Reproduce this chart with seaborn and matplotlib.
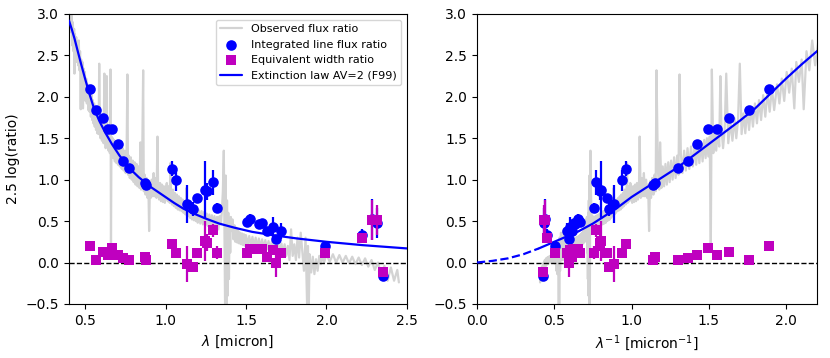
import numpy as np
import pandas as pd
import matplotlib
matplotlib.use('Agg')
import matplotlib.pyplot as plt
import seaborn as sns

# ------------------------------------------------------------
# data
# ------------------------------------------------------------
# wavelengths of the lines [micron]
lam_lines = [0.530, 0.568, 0.613, 0.645, 0.668, 0.704, 0.733, 0.770, 0.870, 0.880,
             1.038, 1.065, 1.131, 1.168, 1.193, 1.245, 1.255, 1.296, 1.321, 1.504,
             1.524, 1.580, 1.600, 1.628, 1.670, 1.684, 1.715, 1.990, 2.218, 2.280,
             2.315, 2.350]
# integrated line flux ratio, 2.5 log(ratio)
flux_ratio = [2.09, 1.84, 1.75, 1.61, 1.61, 1.43, 1.23, 1.145, 0.96, 0.93,
              1.13, 0.99, 0.71, 0.645, 0.78, 0.88, 0.86, 0.97, 0.66, 0.485,
              0.52, 0.47, 0.48, 0.38, 0.43, 0.28, 0.38, 0.20, 0.33, 0.52,
              0.48, -0.16]
flux_err = [0.02, 0.02, 0.02, 0.02, 0.02, 0.02, 0.02, 0.02, 0.02, 0.02,
            0.09, 0.13, 0.23, 0.08, 0.05, 0.35, 0.10, 0.15, 0.06, 0.04,
            0.07, 0.04, 0.04, 0.04, 0.12, 0.04, 0.10, 0.03, 0.07, 0.25,
            0.18, 0.02]
# equivalent width ratio
ew_ratio = [0.205, 0.03, 0.13, 0.09, 0.17, 0.085, 0.05, 0.03, 0.07, 0.03,
            0.22, 0.11, -0.02, -0.05, 0.11, 0.26, 0.24, 0.39, 0.12, 0.12,
            0.16, 0.16, 0.16, 0.07, 0.15, 0.00, 0.11, 0.12, 0.30, 0.51,
            0.51, -0.12]
ew_err = [0.02, 0.02, 0.02, 0.02, 0.02, 0.02, 0.02, 0.02, 0.02, 0.02,
          0.05, 0.06, 0.22, 0.03, 0.06, 0.24, 0.10, 0.08, 0.08, 0.04,
          0.06, 0.03, 0.03, 0.04, 0.06, 0.18, 0.05, 0.02, 0.03, 0.24,
          0.18, 0.02]

# extinction law AV=2 (F99), sampled in inverse wavelength
ext_invlam = [0.0, 0.1, 0.2, 0.3, 0.4, 0.45, 0.5, 0.55, 0.6, 0.65, 0.7, 0.75,
              0.8, 0.85, 0.9, 0.95, 1.0, 1.1, 1.2, 1.3, 1.4, 1.5, 1.6, 1.7,
              1.8, 1.9, 2.0, 2.1, 2.2, 2.3, 2.4, 2.5]
ext_val = [0.0, 0.02, 0.05, 0.10, 0.17, 0.21, 0.25, 0.29, 0.33, 0.37, 0.42, 0.47,
           0.53, 0.59, 0.65, 0.72, 0.79, 0.91, 1.03, 1.15, 1.29, 1.43, 1.57, 1.71,
           1.86, 2.04, 2.22, 2.39, 2.55, 2.70, 2.82, 2.92]

# observed flux ratio spectrum (wavelength [micron], 2.5 log(ratio))
obs_spectrum = [
    (0.400, 3.05), (0.404, 2.85), (0.408, 3.05), (0.412, 2.78), (0.416, 2.98),
    (0.420, 2.62), (0.424, 2.90), (0.428, 2.55), (0.432, 2.82), (0.434, 2.28),
    (0.437, 2.76), (0.441, 2.50), (0.445, 2.72), (0.449, 2.42), (0.453, 2.65),
    (0.457, 2.38), (0.461, 2.68), (0.465, 2.32), (0.469, 2.55), (0.473, 1.85),
    (0.476, 2.45), (0.480, 2.18), (0.484, 2.42), (0.487, 1.86), (0.491, 2.34),
    (0.495, 2.05), (0.499, 2.30), (0.503, 1.95), (0.507, 2.22), (0.511, 1.92),
    (0.515, 2.15), (0.520, 1.84), (0.524, 2.10), (0.528, 1.82), (0.532, 2.06),
    (0.536, 1.76), (0.540, 2.02), (0.544, 1.72), (0.548, 1.96), (0.552, 1.68),
    (0.556, 1.92), (0.560, 1.64), (0.564, 1.88), (0.568, 1.60), (0.572, 1.84),
    (0.576, 1.56), (0.580, 1.80), (0.584, 1.55), (0.588, 2.40), (0.592, 1.72),
    (0.596, 1.50), (0.600, 1.74), (0.605, 1.47), (0.610, 1.70), (0.615, 1.44),
    (0.620, 2.28), (0.624, 1.60), (0.628, 1.38), (0.632, 1.62), (0.635, 2.25),
    (0.638, 1.40), (0.642, 1.60), (0.646, 1.35), (0.650, 1.56), (0.654, 1.32),
    (0.658, 2.33), (0.661, 0.15), (0.664, 1.52), (0.668, 1.28), (0.672, 1.50),
    (0.676, 1.26), (0.680, 1.48), (0.685, 1.22), (0.690, 1.46), (0.695, 1.20),
    (0.700, 1.44), (0.705, 1.18), (0.710, 1.42), (0.716, 1.16), (0.722, 1.40),
    (0.728, 1.13), (0.734, 1.38), (0.740, 1.11), (0.746, 1.35), (0.752, 1.08),
    (0.758, 1.31), (0.763, 2.27), (0.767, 1.06), (0.772, 1.29), (0.778, 1.02),
    (0.784, 1.27), (0.790, 1.00), (0.796, 1.23), (0.802, 0.97), (0.808, 1.21),
    (0.814, 0.94), (0.820, 1.19), (0.826, 0.92), (0.832, 1.16), (0.838, 0.90),
    (0.844, 1.45), (0.848, 0.88), (0.854, 1.10), (0.861, 2.32), (0.865, 0.86),
    (0.870, 1.06), (0.876, 0.82), (0.882, 1.02), (0.888, 0.78), (0.893, 0.98),
    (0.898, 0.38), (0.903, 0.94), (0.908, 0.78), (0.914, 1.00), (0.920, 0.80),
    (0.926, 1.08), (0.932, 0.80), (0.938, 1.02), (0.944, 0.78), (0.950, 1.52),
    (0.954, 0.92), (0.960, 0.76), (0.966, 0.96), (0.972, 0.74), (0.978, 0.94),
    (0.984, 0.73), (0.990, 0.92), (0.996, 0.72), (1.002, 0.90), (1.008, 0.96),
    (1.014, 0.74), (1.020, 0.92), (1.026, 0.72), (1.030, 1.20), (1.034, 0.84),
    (1.040, 0.70), (1.046, 0.88), (1.052, 0.68), (1.058, 0.84), (1.064, 0.66),
    (1.070, 0.82), (1.076, 0.64), (1.082, 0.80), (1.088, 0.63), (1.094, 0.78),
    (1.100, 0.62), (1.106, 0.76), (1.112, 0.60), (1.118, 0.74), (1.124, 0.58),
    (1.130, 0.90), (1.134, 0.68), (1.140, 0.56), (1.146, 0.72), (1.152, 0.54),
    (1.158, 0.70), (1.164, 0.52), (1.170, 0.68), (1.176, 0.51), (1.182, 0.66),
    (1.188, 0.50), (1.194, 0.64), (1.200, 0.48), (1.208, 0.63), (1.216, 0.47),
    (1.224, 0.62), (1.232, 0.46), (1.240, 0.61), (1.248, 0.45), (1.256, 0.59),
    (1.264, 0.44), (1.272, 0.58), (1.280, 0.43), (1.288, 0.57), (1.296, 0.42),
    (1.304, 0.56), (1.312, 0.41), (1.320, 0.55), (1.328, 0.40), (1.336, 0.56),
    (1.344, 0.46), (1.350, 0.62), (1.356, 0.85), (1.362, 1.35), (1.366, 0.40),
    (1.370, -0.55), (1.374, 1.05), (1.378, -0.55), (1.382, 0.75), (1.386, -0.40),
    (1.390, 0.60), (1.394, -0.20), (1.398, 0.48), (1.402, 0.12), (1.406, 0.55),
    (1.410, 0.38), (1.416, 0.52), (1.422, 0.28), (1.428, 0.45), (1.434, 0.25),
    (1.440, 0.42), (1.446, 0.24), (1.452, 0.38), (1.458, 0.23), (1.464, 0.36),
    (1.470, 0.22), (1.476, 0.35), (1.482, 0.21), (1.488, 0.34), (1.494, 0.20),
    (1.500, 0.33), (1.510, 0.21), (1.520, 0.32), (1.530, 0.20), (1.540, 0.31),
    (1.550, 0.19), (1.560, 0.30), (1.570, 0.18), (1.580, 0.29), (1.590, 0.17),
    (1.600, 0.28), (1.610, 0.17), (1.620, 0.27), (1.630, 0.16), (1.640, 0.26),
    (1.650, 0.15), (1.660, 0.25), (1.670, 0.14), (1.680, 0.25), (1.690, 0.13),
    (1.700, 0.24), (1.710, 0.12), (1.720, 0.23), (1.730, 0.11), (1.740, 0.22),
    (1.750, 0.08), (1.760, 0.20), (1.770, 0.03), (1.780, 0.40), (1.790, 0.08),
    (1.800, 0.22), (1.810, 0.03), (1.820, 0.30), (1.830, 0.06), (1.840, 0.36),
    (1.850, 0.13), (1.860, -0.10), (1.870, 0.30), (1.880, -0.55), (1.885, 0.20),
    (1.890, -0.55), (1.895, 0.10), (1.905, -0.12), (1.915, 0.07), (1.925, -0.14),
    (1.935, 0.04), (1.945, -0.10), (1.955, 0.08), (1.965, -0.02), (1.975, 0.10),
    (1.985, 0.00), (2.000, 0.10), (2.020, 0.01), (2.040, 0.10), (2.060, 0.00),
    (2.080, 0.09), (2.100, 0.00), (2.120, 0.08), (2.140, -0.01), (2.160, 0.07),
    (2.180, -0.02), (2.200, 0.06), (2.220, -0.03), (2.240, 0.05), (2.260, -0.05),
    (2.280, 0.03), (2.300, -0.09), (2.320, 0.00), (2.340, -0.17), (2.360, -0.04),
    (2.380, -0.22), (2.400, -0.06), (2.420, -0.22), (2.440, -0.09), (2.450, -0.24),
]

# ------------------------------------------------------------
# tables
# ------------------------------------------------------------
lines = pd.DataFrame({'lam': lam_lines, 'flux': flux_ratio, 'flux_err': flux_err,
                      'ew': ew_ratio, 'ew_err': ew_err})
lines['inv'] = 1.0 / lines['lam']

obs = pd.DataFrame(obs_spectrum, columns=['lam', 'val'])
obs['inv'] = 1.0 / obs['lam']

ext = pd.DataFrame({'inv': ext_invlam, 'val': ext_val})
ext_solid = ext[ext['inv'] >= 0.4].copy()
ext_solid['lam'] = 1.0 / ext_solid['inv']
ext_dash = ext[ext['inv'] <= 0.4]

# ------------------------------------------------------------
# plot
# ------------------------------------------------------------
sns.set_style('ticks', {'axes.edgecolor': 'black', 'xtick.color': 'black',
                        'ytick.color': 'black', 'text.color': 'black',
                        'axes.labelcolor': 'black'})
plt.rcParams['font.family'] = ['DejaVu Sans']
plt.rcParams['mathtext.fontset'] = 'dejavusans'

fig = plt.figure(figsize=(8.3, 3.58), dpi=100)
ax1 = fig.add_axes([0.0831, 0.151, 0.4072, 0.81])
ax2 = fig.add_axes([0.5747, 0.151, 0.4096, 0.81])

gray = '#d3d3d3'
blue = '#0000ff'
mag = '#bf00bf'


def draw(ax, xcol, ext_df, label=True):
    sns.lineplot(data=obs, x=xcol, y='val', ax=ax, color=gray, lw=1.6,
                 estimator=None, sort=False, zorder=1,
                 label='Observed flux ratio' if label else None)
    ax.axhline(0, color='k', ls='--', lw=1.0, zorder=2)
    ax.errorbar(lines[xcol], lines['flux'], yerr=lines['flux_err'], fmt='none',
                ecolor=blue, elinewidth=1.6, zorder=4)
    sns.scatterplot(data=lines, x=xcol, y='flux', ax=ax, color=blue, marker='o',
                    s=58, linewidth=0, zorder=5,
                    label='Integrated line flux ratio' if label else None)
    ax.errorbar(lines[xcol], lines['ew'], yerr=lines['ew_err'], fmt='none',
                ecolor=mag, elinewidth=1.6, zorder=6)
    sns.scatterplot(data=lines, x=xcol, y='ew', ax=ax, color=mag, marker='s',
                    s=42, linewidth=0, zorder=7,
                    label='Equivalent width ratio' if label else None)
    sns.lineplot(data=ext_df, x=xcol, y='val', ax=ax, color=blue, lw=1.6,
                 estimator=None, sort=False, zorder=3,
                 label='Extinction law AV=2 (F99)' if label else None)


draw(ax1, 'lam', ext_solid, label=True)
draw(ax2, 'inv', ext_solid, label=False)
sns.lineplot(data=ext_dash, x='inv', y='val', ax=ax2, color=blue, lw=1.6,
             ls='--', estimator=None, sort=False, zorder=3)

ax1.set_xlim(0.4, 2.5)
ax2.set_xlim(0.0, 2.2)
for ax in (ax1, ax2):
    ax.set_ylim(-0.5, 3.0)
    ax.set_yticks(np.arange(-0.5, 3.01, 0.5))
    ax.tick_params(labelsize=10)
ax1.set_xticks([0.5, 1.0, 1.5, 2.0, 2.5])
ax2.set_xticks([0.0, 0.5, 1.0, 1.5, 2.0])

ax1.set_xlabel(r'$\lambda$ [micron]', fontsize=10)
ax1.set_ylabel('2.5 log(ratio)', fontsize=10)
ax2.set_xlabel(r'$\lambda^{-1}$ [micron$^{-1}$]', fontsize=10)
ax2.set_ylabel('')

h, l = ax1.get_legend_handles_labels()
ax1.legend(h, l, loc='upper right', fontsize=8, frameon=True)
if ax2.get_legend() is not None:
    ax2.get_legend().remove()

plt.savefig('out.png', dpi=100)
